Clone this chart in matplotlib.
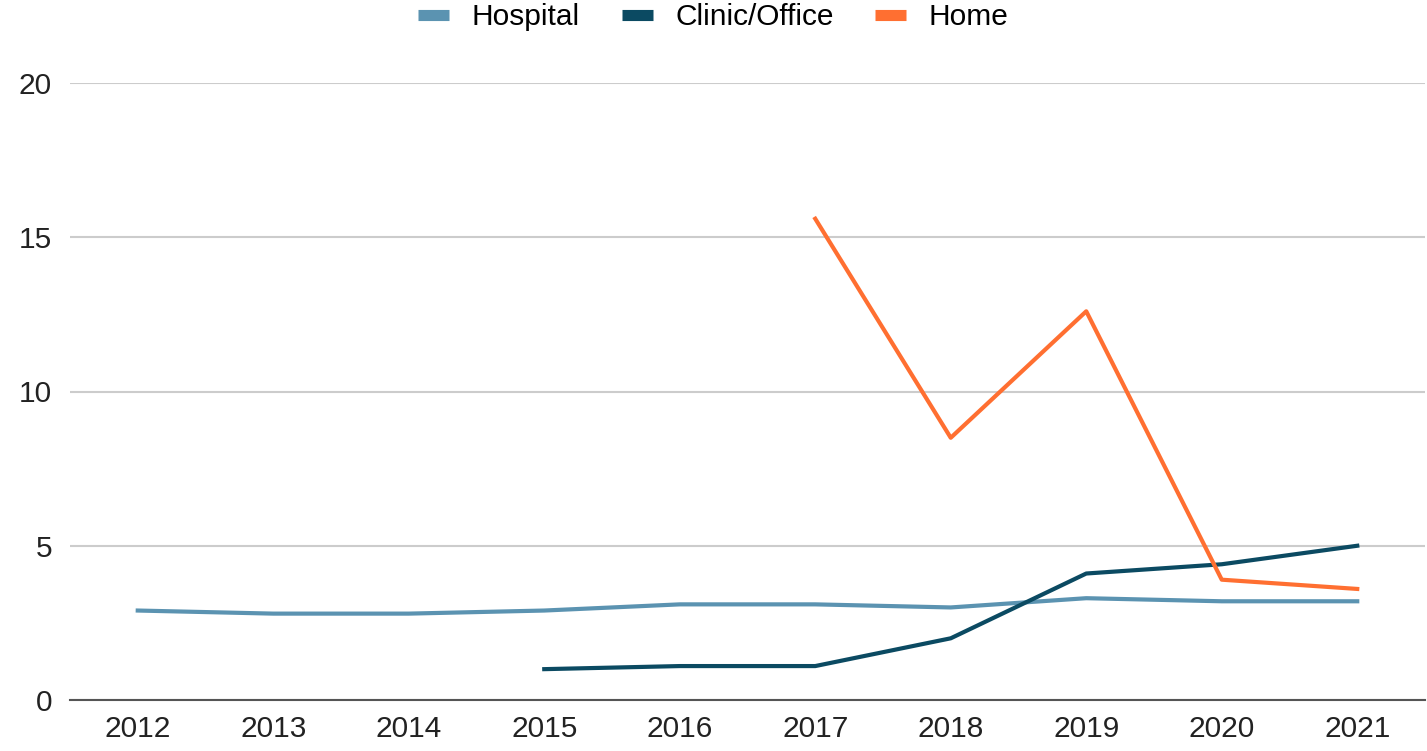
import matplotlib
matplotlib.use("Agg")
import matplotlib.pyplot as plt
from matplotlib.lines import Line2D

plt.rcParams['font.family'] = ['Liberation Sans', 'DejaVu Sans']

years = [2012, 2013, 2014, 2015, 2016, 2017, 2018, 2019, 2020, 2021]
hospital_years = years
hospital = [2.9, 2.8, 2.8, 2.9, 3.1, 3.1, 3.0, 3.3, 3.2, 3.2]
clinic_years = [2015, 2016, 2017, 2018, 2019, 2020, 2021]
clinic = [1.0, 1.1, 1.1, 2.0, 4.1, 4.4, 5.0]
home_years = [2017, 2018, 2019, 2020, 2021]
home = [15.6, 8.5, 12.6, 3.9, 3.6]
series_names = ["Hospital", "Clinic/Office", "Home"]
colors = ["#5b93b1", "#0b4a62", "#ff6f31"]
yticks = [0, 5, 10, 15, 20]

fig = plt.figure(figsize=(14.27, 7.51), dpi=100)
ax = fig.add_axes([70/1427, 1-700/751, (1425-70)/1427, (700-83)/751])

ax.plot(hospital_years, hospital, color=colors[0], lw=3, solid_joinstyle='round', zorder=3)
ax.plot(clinic_years, clinic, color=colors[1], lw=3, solid_joinstyle='round', zorder=4)
ax.plot(home_years, home, color=colors[2], lw=3, solid_joinstyle='round', zorder=5)

ax.set_xlim(2011.5, 2021.5)
ax.set_ylim(0, 20)
ax.set_xticks(years)
ax.set_xticklabels([str(y) for y in years])
ax.set_yticks(yticks)
ax.set_yticklabels([str(v) for v in yticks])
ax.tick_params(axis='both', length=0, labelsize=21.5, colors='#222222')
ax.tick_params(axis='y', pad=13)
ax.tick_params(axis='x', pad=11)
ax.grid(axis='y', color='#cccccc', lw=1.5)
ax.set_axisbelow(True)
for s in ['top', 'right', 'left']:
    ax.spines[s].set_visible(False)
ax.spines['bottom'].set_color('#555555')
ax.spines['bottom'].set_linewidth(1.5)
ax.spines['bottom'].set_zorder(6)

handles = [Line2D([0], [0], color=c, lw=8, solid_capstyle='butt') for c in colors]
fig.legend(handles, series_names, loc='center', bbox_to_anchor=(0.5, 1-17/751),
           ncol=3, frameon=False, fontsize=21.5, handlelength=1.04,
           columnspacing=1.4, handletextpad=0.75)

fig.savefig("out.png", dpi=100)
